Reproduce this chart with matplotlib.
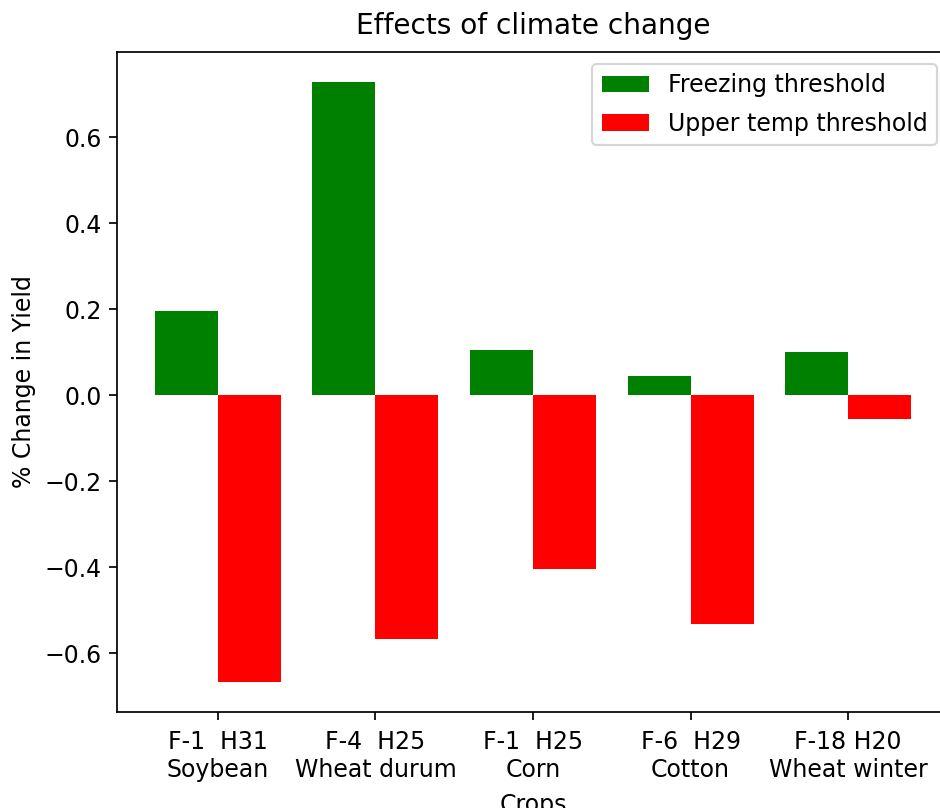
import matplotlib
matplotlib.use("Agg")
import matplotlib.pyplot as plt
import numpy as np

# crop names and the thresholds used for each run
crops = ["Soybean", "Wheat durum", "Corn", "Cotton", "Wheat winter"]
freeze_thresh = ["F-1", "F-4", "F-1", "F-6", "F-18"]
upper_thresh = ["H31", "H25", "H25", "H29", "H20"]

# % change in yield
freeze_change = [0.197, 0.729, 0.105, 0.046, 0.101]
upper_change = [-0.667, -0.567, -0.405, -0.533, -0.055]

labels = []
for f, h, c in zip(freeze_thresh, upper_thresh, crops):
    sep = "  " if len(f) < 4 else " "
    labels.append(f + sep + h + "\n" + c)

plt.rcParams["font.size"] = 11
plt.rcParams["axes.titlesize"] = 13

fig = plt.figure(figsize=(940 / 155, 808 / 155), dpi=155)
ax = fig.add_axes([117 / 940, 96 / 808, 832 / 940, 660 / 808])

ind = np.arange(len(crops))
width = 0.4
ax.bar(ind, freeze_change, -width, align="edge", color="green", label="Freezing threshold")
ax.bar(ind, upper_change, width, align="edge", color="red", label="Upper temp threshold")

ax.set_xticks(ind)
ax.set_xticklabels(labels)
ax.tick_params(axis="x", pad=5)
ax.set_xlabel("Crops", labelpad=5)
ax.set_ylabel("% Change in Yield")
ax.set_title("Effects of climate change", pad=8.5)
ax.legend(loc="upper right", labelspacing=0.6)

fig.savefig("out.png", dpi=155)
